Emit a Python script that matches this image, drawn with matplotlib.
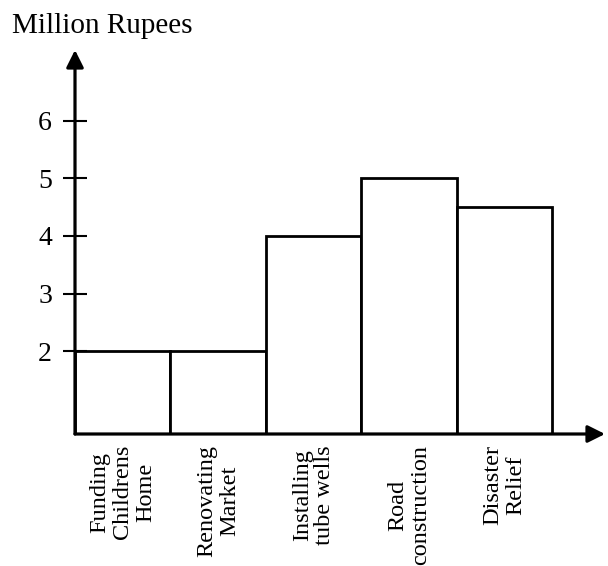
import matplotlib
matplotlib.use("Agg")
import matplotlib.pyplot as plt

categories = ["Funding\nChildrens\nHome", "Renovating\nMarket", "Installing\ntube wells",
              "Road\nconstruction", "Disaster\nRelief"]
values = [2, 2, 4, 5, 4.5]
yticks = [2, 3, 4, 5, 6]

plt.rcParams['font.family'] = ['Liberation Serif', 'DejaVu Serif']

W, H = 608, 566
fig = plt.figure(figsize=(W / 100, H / 100), dpi=100)
# axes box: y axis at x=75px, baseline at y=434px, arrows end at 605px / 50px
ax = fig.add_axes([75 / W, (H - 434) / H, (605 - 75) / W, (434 - 50) / H])

x0, x1 = 0, 5.555
y0, y1 = 0.56, 7.23
ax.set_xlim(x0, x1)
ax.set_ylim(y0, y1)

pos = list(range(len(values)))
ax.bar(pos, values, width=1, align='edge', bottom=0, facecolor='white',
       edgecolor='black', linewidth=2.0)

for s in ax.spines.values():
    s.set_visible(False)

ax.annotate('', xy=(x1, y0), xytext=(x0, y0), xycoords='data',
            arrowprops=dict(arrowstyle='-|>', color='black', lw=2.3,
                            mutation_scale=26, shrinkA=0, shrinkB=0),
            annotation_clip=False)
ax.annotate('', xy=(x0, y1), xytext=(x0, y0), xycoords='data',
            arrowprops=dict(arrowstyle='-|>', color='black', lw=2.3,
                            mutation_scale=26, shrinkA=0, shrinkB=0),
            annotation_clip=False)

ax.set_yticks(yticks)
ax.set_yticklabels([str(v) for v in yticks], fontsize=20)
ax.tick_params(axis='y', direction='inout', length=17, width=1.5, pad=8)

ax.set_xticks([p + 0.5 for p in pos])
ax.set_xticklabels(categories, rotation=90, fontsize=17.5, va='top',
                   ha='center', multialignment='center', linespacing=1.1)
ax.tick_params(axis='x', length=0, pad=8)

fig.text(12 / W, 1 - 33 / H, "Million Rupees", fontsize=21, va='baseline', ha='left')

fig.savefig("out.png", dpi=100)
